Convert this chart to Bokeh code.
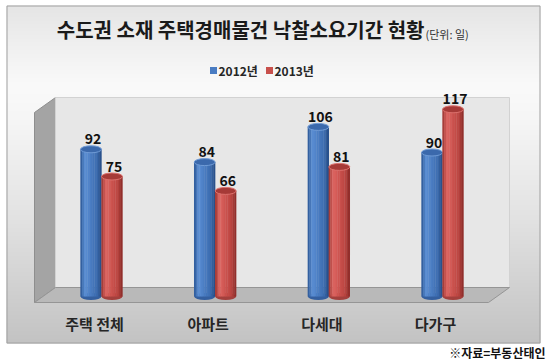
import numpy as np
from bokeh.plotting import figure
from bokeh.models import Range1d
from bokeh.core.properties import value
from bokeh.embed import file_html
from bokeh.resources import INLINE

# ---------------- data ----------------
categories = ["주택 전체", "아파트", "다세대", "다가구"]
series_names = ["2012년", "2013년"]
values_2012 = [92, 84, 106, 90]
values_2013 = [75, 66, 81, 117]
title_text = "수도권 소재 주택경매물건 낙찰소요기간 현황"
unit_text = "(단위: 일)"
source_text = "※자료=부동산태인"

# ---------------- geometry (page pixels) ----------------
W, H = 550, 363
PAGE = 0
GROUP0_PX = 101.0     # page x of first group centre
GROUP_PX = 113.67     # px between groups
ZERO_PX = 296.0       # page y of value 0
UNIT_PX = 1.6         # px per day
BAR_PX = 21.0

def dx(xp):
    return (xp - GROUP0_PX) / GROUP_PX

def dy(yp):
    return (ZERO_PX - yp) / UNIT_PX

FONT = value("Noto Sans CJK KR")

p = figure(width=W, height=H, output_backend="svg", toolbar_location=None,
           x_range=Range1d(dx(PAGE), dx(PAGE + W)),
           y_range=Range1d(dy(PAGE + H), dy(PAGE)),
           min_border=0, min_border_left=0, min_border_right=0,
           min_border_top=0, min_border_bottom=0)
p.axis.visible = False
p.grid.visible = False
p.outline_line_color = None
p.background_fill_color = "white"
p.border_fill_color = "white"

# ---------------- gradient background box ----------------
box_l, box_r, box_t, box_b = 6, 540, 5, 343
stops_y = [5, 45, 85, 120, 220, 343]
stops_g = [229, 240, 250, 246, 226, 195]
rows = int(box_b - box_t)
ys = box_b - np.arange(rows) - 0.5   # row 0 at bottom
g = np.interp(ys, stops_y, stops_g).astype(np.uint32)
img = np.zeros((rows, 2), dtype=np.uint32)
rgba = (255 << 24) | (g << 16) | (g << 8) | g
img[:, 0] = rgba
img[:, 1] = rgba
p.image_rgba(image=[img], x=dx(box_l), y=dy(box_b),
             dw=dx(box_r) - dx(box_l), dh=dy(box_t) - dy(box_b))
p.quad(left=[dx(box_l + 0.5)], right=[dx(box_r - 0.5)],
       top=[dy(box_t + 0.5)], bottom=[dy(box_b - 0.5)],
       fill_color=None, line_color="#a0a0a0", line_width=1)

# ---------------- 3D walls ----------------
wl, wr, wt, wb = 55, 509, 97, 287     # back wall
ox, oy = -21, 15                       # depth offset (front = back + offset)
# side wall
p.patch(x=[dx(wl + ox), dx(wl), dx(wl), dx(wl + ox)],
        y=[dy(wt + oy), dy(wt), dy(wb), dy(wb + oy)],
        fill_color="#a4a4a4", line_color="#8e8e8e", line_width=1)
# back wall
p.patch(x=[dx(wl), dx(wr), dx(wr), dx(wl)],
        y=[dy(wt), dy(wt), dy(wb), dy(wb)],
        fill_color="#e7e7e7", line_color="#d2d2d2", line_width=1)
# floor
p.patch(x=[dx(wl + ox), dx(wl), dx(wr), dx(wr + ox)],
        y=[dy(wb + oy), dy(wb), dy(wb), dy(wb + oy)],
        fill_color="#b9b9b9", line_color="#959595", line_width=1)

# ---------------- cylinders ----------------
def hex2rgb(h):
    return [int(h[i:i + 2], 16) for i in (1, 3, 5)]

def interp_color(stops, f):
    pos = [s[0] for s in stops]
    cols = np.array([hex2rgb(s[1]) for s in stops], dtype=float)
    c = [np.interp(f, pos, cols[:, k]) for k in range(3)]
    return "#%02x%02x%02x" % tuple(int(round(v)) for v in c)

blue_stops = [(0.0, "#2a5594"), (0.22, "#5c8fd4"), (0.45, "#4c7fc5"),
              (0.78, "#3c6caf"), (1.0, "#244b84")]
red_stops = [(0.0, "#9a3330"), (0.22, "#dd6662"), (0.45, "#cf5551"),
             (0.78, "#ba4440"), (1.0, "#892a27")]

bw = BAR_PX / GROUP_PX
idx = np.arange(len(categories))
N = 12

def cylinder(vals, offset, stops, top_fill, top_line, bottom_fill):
    cx = idx + offset
    p.ellipse(x=cx, y=[0] * len(vals), width=bw, height=7, height_units="screen",
              fill_color=bottom_fill, line_color=None)
    for j in range(N):
        f = (j + 0.5) / N
        p.vbar(x=cx - bw / 2 + f * bw, top=vals, bottom=0, width=bw / N * 1.2,
               fill_color=interp_color(stops, f), line_color=None)
    p.ellipse(x=cx, y=vals, width=bw, height=7, height_units="screen",
              fill_color=top_fill, line_color=top_line, line_width=1)
    p.text(x=cx + 2.0 / GROUP_PX, y=vals, text=[str(v) for v in vals],
           y_offset=-5, text_align="center", text_baseline="bottom",
           text_font=FONT, text_font_style="bold", text_font_size="14px",
           text_color="#111111")

cylinder(values_2012, -bw / 2, blue_stops, "#3b69ac", "#6f9bd6", "#345f9f")
cylinder(values_2013, bw / 2, red_stops, "#a63a37", "#dc706c", "#a3403d")

# ---------------- category labels ----------------
p.text(x=idx - 7.0 / GROUP_PX, y=[dy(323)] * len(categories), text=categories,
       text_align="center", text_baseline="middle", text_font=FONT,
       text_font_style="bold", text_font_size="15px", text_color="#262626")

# ---------------- title ----------------
p.text(x=[dx(424)], y=[dy(29)], text=[title_text], text_align="right",
       text_baseline="middle", text_font=FONT, text_font_style="bold",
       text_font_size="20px", text_color="#1a1a1a")
p.text(x=[dx(425)], y=[dy(33)], text=[unit_text], text_align="left",
       text_baseline="middle", text_font=FONT, text_font_size="11px",
       text_color="#333333")

# ---------------- legend ----------------
leg_colors = ["#4a7cc2", "#c8504c"]
leg_sq_x = [213, 269]
leg_tx_x = [218, 274]
for c, sx, tx, name in zip(leg_colors, leg_sq_x, leg_tx_x, series_names):
    p.rect(x=[dx(sx)], y=[dy(70)], width=7, height=7, width_units="screen",
           height_units="screen", fill_color=c, line_color=None)
    p.text(x=[dx(tx)], y=[dy(70)], text=[name], text_align="left",
           text_baseline="middle", text_font=FONT, text_font_style="bold",
           text_font_size="12px", text_color="#262626")

# ---------------- source ----------------
p.text(x=[dx(545)], y=[dy(352)], text=[source_text], text_align="right",
       text_baseline="middle", text_font=FONT, text_font_style="bold",
       text_font_size="12px", text_color="#111111")

open("out.html", "w").write(file_html(p, INLINE))
